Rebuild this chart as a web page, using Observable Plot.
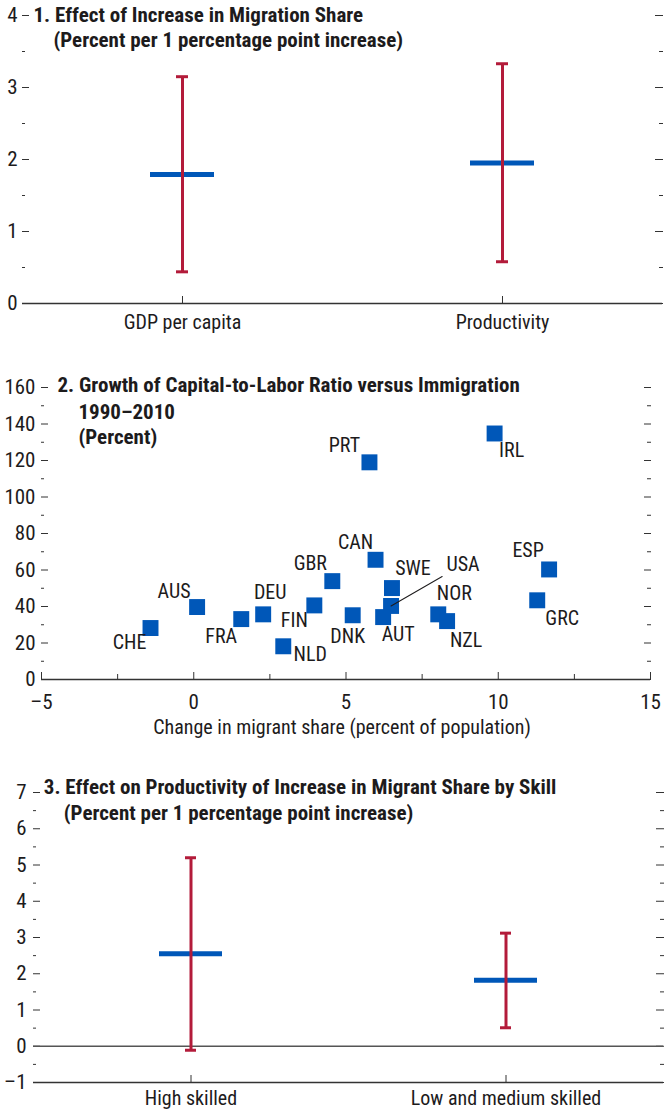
<!DOCTYPE html>
<html>
<head>
<meta charset="utf-8">
<script src="https://cdn.jsdelivr.net/npm/d3@7"></script>
<script src="https://cdn.jsdelivr.net/npm/@observablehq/plot@0.6"></script>
<style>
  body { margin: 0; background: #fff; }
  #chart svg { display: block; }
</style>
</head>
<body>
<div id="chart"></div>
<script>
// ---------- Panel 1 data ----------
const p1Categories = ["GDP per capita", "Productivity"];
const p1Estimate = [1.79, 1.95];
const p1Lower = [0.44, 0.58];
const p1Upper = [3.15, 3.33];
const p1MajorTicks = [0, 1, 2, 3, 4];
const p1MinorTicks = [0.5, 1.5, 2.5, 3.5];
const p1Title = ["1. Effect of Increase in Migration Share", "(Percent per 1 percentage point increase)"];

// ---------- Panel 2 data ----------
const p2Countries = ["CHE", "AUS", "FRA", "DEU", "NLD", "FIN", "GBR", "DNK", "PRT", "CAN", "SWE", "USA", "AUT", "NOR", "NZL", "IRL", "GRC", "ESP"];
const p2MigrantShareChange = [-1.42, 0.11, 1.56, 2.28, 2.94, 3.96, 4.55, 5.22, 5.77, 5.97, 6.51, 6.48, 6.22, 8.03, 8.32, 9.88, 11.28, 11.67];
const p2CapitalLaborGrowth = [28.2, 39.7, 33.1, 35.7, 18.2, 40.6, 53.9, 35.2, 119.0, 65.6, 50.1, 40.3, 34.2, 35.7, 32.0, 134.8, 43.4, 60.3];
const p2XTicks = [-5, 0, 5, 10, 15];
const p2XMinorTicks = [-2.5, 2.5, 7.5, 12.5];
const p2YTicks = [0, 20, 40, 60, 80, 100, 120, 140, 160];
const p2YMinorTicks = [10, 30, 50, 70, 90, 110, 130, 150];
const p2Title = ["2. Growth of Capital-to-Labor Ratio versus Immigration", "1990\u20132010", "(Percent)"];
const p2XLabel = "Change in migrant share (percent of population)";

// ---------- Panel 3 data ----------
const p3Categories = ["High skilled", "Low and medium skilled"];
const p3Estimate = [2.55, 1.82];
const p3Lower = [-0.11, 0.51];
const p3Upper = [5.20, 3.12];
const p3MajorTicks = [-1, 0, 1, 2, 3, 4, 5, 6, 7];
const p3MinorTicks = [-0.5, 0.5, 1.5, 2.5, 3.5, 4.5, 5.5, 6.5];
const p3Title = ["3. Effect on Productivity of Increase in Migrant Share by Skill", "(Percent per 1 percentage point increase)"];

// ---------- label placement (pixel offsets from marker centre) ----------
const labelOffsets = {
  CHE: [-21, 15], AUS: [-23, -15], FRA: [-20, 18], DEU: [7, -22], NLD: [27, 8],
  FIN: [-20, 15], GBR: [-22, -18], DNK: [-5, 21], PRT: [-25, -17], CAN: [-20, -17],
  SWE: [21, -19], USA: [72, -41], AUT: [15, 18], NOR: [16, -21], NZL: [19, 19],
  IRL: [17, 17], GRC: [25, 18], ESP: [-21, -19]
};

// ---------- styles ----------
const FONT = '"Liberation Sans Narrow","Roboto Condensed","DejaVu Sans Condensed","Liberation Sans",sans-serif';
const BLUE = "#0057b8";
const RED = "#b31b3a";
const INK = "#1d1b1c";
const AXIS = "#333333";
const fmt = d => (d < 0 ? "\u2013" + (-d) : String(d));
const blank = () => "";

function errorPanel(o) {
  const rows = o.cats.map((c, i) => ({c, est: o.est[i], lo: o.lo[i], hi: o.hi[i]}));
  return Plot.plot({
    width: 664, height: o.height,
    marginTop: o.marginTop, marginBottom: o.marginBottom, marginLeft: o.marginLeft, marginRight: o.marginRight,
    style: {fontFamily: FONT, fontSize: "20px", color: INK, background: "white", overflow: "visible"},
    x: {type: "band", domain: o.cats, paddingInner: 0.8, paddingOuter: 0.4, align: 0.5, axis: null},
    y: {domain: o.domain, axis: null},
    marks: [
      Plot.axisY(o.major, {anchor: "left", tickSize: -7, tickPadding: o.leftPad, tickFormat: fmt, label: null, stroke: AXIS, fill: INK, fontSize: 21}),
      Plot.axisY(o.minor, {anchor: "left", tickSize: -3, tickFormat: blank, label: null, stroke: AXIS}),
      Plot.axisY(o.major, {anchor: "right", tickSize: -8, tickFormat: blank, label: null, stroke: AXIS}),
      Plot.axisY(o.minor, {anchor: "right", tickSize: -4, tickFormat: blank, label: null, stroke: AXIS}),
      Plot.axisX({anchor: "bottom", tickSize: -7, tickPadding: o.bottomPad, label: null, stroke: AXIS, fill: INK}),
      o.zeroLine ? Plot.ruleY([0], {stroke: "#555", strokeWidth: 1.3}) : null,
      Plot.ruleY([o.domain[0]], {stroke: AXIS, strokeWidth: 1.4}),
      Plot.tickY(rows, {x: "c", y: "est", stroke: BLUE, strokeWidth: 5}),
      Plot.ruleX(rows, {x: "c", y1: "lo", y2: "hi", stroke: RED, strokeWidth: 3}),
      Plot.tickY(rows, {x: "c", y: "hi", stroke: RED, strokeWidth: 3, insetLeft: 26, insetRight: 26}),
      Plot.tickY(rows, {x: "c", y: "lo", stroke: RED, strokeWidth: 3, insetLeft: 26, insetRight: 26}),
      ...o.title.map((t, i) => Plot.text([t], {
        frameAnchor: "top-left", dx: o.titleDx[i], dy: o.titleDy[i],
        textAnchor: "start", lineAnchor: "middle", fontWeight: "bold", fontSize: 21, fill: INK
      }))
    ]
  });
}

const chart = document.getElementById("chart");

// Panel 1
chart.append(errorPanel({
  cats: p1Categories, est: p1Estimate, lo: p1Lower, hi: p1Upper,
  major: p1MajorTicks, minor: p1MinorTicks, domain: [0, 4],
  height: 340, marginTop: 15, marginBottom: 37, marginLeft: 22, marginRight: 2,
  leftPad: 12, bottomPad: 18, zeroLine: false,
  title: p1Title, titleDx: [11, 31], titleDy: [0, 25]
}));

// Panel 2
const p2Rows = p2Countries.map((c, i) => ({c, x: p2MigrantShareChange[i], y: p2CapitalLaborGrowth[i]}));
const lineShape = {draw(context, l) { context.moveTo(0, 0); context.lineTo(0, -l); }};
chart.append(Plot.plot({
  width: 664, height: 405,
  marginTop: 47, marginBottom: 66, marginLeft: 41, marginRight: 14,
  style: {fontFamily: FONT, fontSize: "20px", color: INK, background: "white", overflow: "visible"},
  x: {domain: [-5, 15], axis: null},
  y: {domain: [0, 160], axis: null},
  marks: [
    Plot.axisY(p2YTicks, {anchor: "left", tickSize: -7, tickPadding: 13, tickFormat: fmt, label: null, stroke: AXIS, fill: INK, fontSize: 21}),
    Plot.axisY(p2YMinorTicks, {anchor: "left", tickSize: -3, tickFormat: blank, label: null, stroke: AXIS}),
    Plot.axisY(p2YTicks, {anchor: "right", tickSize: -7, tickFormat: blank, label: null, stroke: AXIS}),
    Plot.axisY(p2YMinorTicks, {anchor: "right", tickSize: -4, tickFormat: blank, label: null, stroke: AXIS}),
    Plot.axisX(p2XTicks, {anchor: "bottom", tickSize: -7, tickPadding: 22, tickFormat: fmt, label: null, stroke: AXIS, fill: INK, fontSize: 21}),
    Plot.axisX(p2XMinorTicks, {anchor: "bottom", tickSize: -5, tickFormat: blank, label: null, stroke: AXIS}),
    Plot.ruleY([0], {stroke: AXIS, strokeWidth: 1.4}),
    Plot.dot(p2Rows, {x: "x", y: "y", symbol: "square", r: 9, fill: BLUE}),
    Plot.vector(p2Rows.filter(d => d.c === "USA"), {x: "x", y: "y", length: 59, rotate: 60, anchor: "start", shape: lineShape, stroke: INK, strokeWidth: 1}),
    ...p2Rows.map(d => Plot.text([d], {
      x: "x", y: "y", text: "c", dx: labelOffsets[d.c][0], dy: labelOffsets[d.c][1],
      textAnchor: "middle", lineAnchor: "middle", fontSize: 20, fill: INK
    })),
    ...p2Title.map((t, i) => Plot.text([t], {
      frameAnchor: "top-left", dx: [16, 37, 37][i], dy: [-2, 24.7, 49.7][i],
      textAnchor: "start", lineAnchor: "middle", fontWeight: "bold", fontSize: 21, fill: INK
    })),
    Plot.text([p2XLabel], {frameAnchor: "bottom", dx: -4, dy: 48, lineAnchor: "middle", fontSize: 20, fill: INK})
  ]
}));

// Panel 3
chart.append(errorPanel({
  cats: p3Categories, est: p3Estimate, lo: p3Lower, hi: p3Upper,
  major: p3MajorTicks, minor: p3MinorTicks, domain: [-1, 7],
  height: 367, marginTop: 47, marginBottom: 30, marginLeft: 33, marginRight: 1,
  leftPad: 14, bottomPad: 15, zeroLine: true,
  title: p3Title, titleDx: [10.3, 30.3], titleDy: [-5.3, 20.7]
}));
</script>
</body>
</html>
